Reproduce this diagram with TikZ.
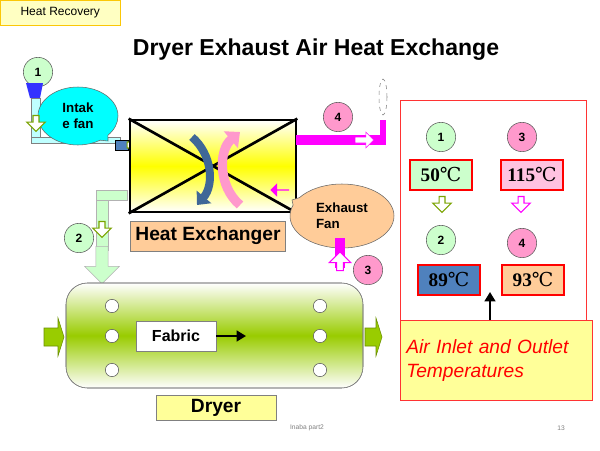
\documentclass[tikz,border=0pt]{standalone}
\usepackage{fontspec}
\setmainfont{Liberation Sans}
\newfontfamily\serf{Liberation Serif}
\newfontfamily\djs{DejaVu Serif}
\usetikzlibrary{arrows.meta,shapes.geometric,shapes.callouts,shapes.arrows}
\definecolor{lgreen}{RGB}{204,255,204}
\definecolor{lpink}{RGB}{255,153,204}
\definecolor{cyanf}{RGB}{0,255,255}
\definecolor{mag}{RGB}{255,0,255}
\definecolor{orangef}{RGB}{255,204,153}
\definecolor{ylw}{RGB}{255,255,153}
\definecolor{grn}{RGB}{153,204,0}
\definecolor{bluef}{RGB}{79,129,189}
\tikzset{
 num/.style={circle,draw=gray!70!black,minimum size=22pt,inner sep=0pt,font=\bfseries\small},
 temp/.style={draw=red,thick,minimum width=62*0.75pt,minimum height=30*0.75pt,font=\serf\bfseries\Large,inner sep=1pt},
 bub/.style={draw=gray!70!black,fill=white,circle,minimum size=10pt,inner sep=0pt},
 garrow/.style={single arrow,draw=grn!80!black,thick,fill=white,minimum width=14pt,single arrow head extend=3pt,inner sep=1pt,minimum height=15pt},
 sidearrow/.style={fill=grn,draw=grn!70!black}
}
\begin{document}
\begin{tikzpicture}[x=0.75pt,y=-0.75pt]
\useasboundingbox (0,0) rectangle (600,450);
\fill[white] (0,0) rectangle (600,450);
\node[draw=yellow!60!orange,fill=ylw!60,minimum width=120*0.75pt,minimum height=25*0.75pt,inner sep=0pt,anchor=north west,font=\small] (hr) at (0,0) {Heat Recovery};
\node[font=\bfseries\LARGE] (title) at (316,50) {Dryer Exhaust Air Heat Exchange};
% intake
\node[num,fill=lgreen] (c1) at (38,72) {1};
\fill[blue!80] (26,83) -- (43,83) -- (40,98) -- (30,98) -- cycle;
\draw[gray,fill=cyanf!25] (31,98) rectangle (40,143);
\draw[gray,fill=cyanf!25] (31,137) rectangle (120,143);
\node[ellipse callout,draw=black!60,fill=cyanf,minimum width=80*0.75pt,minimum height=58*0.75pt,callout absolute pointer={(108,141)},align=left,font=\bfseries] (fan1) at (78,116) {Intak\\e fan};
\draw[fill=bluef] (115,140) rectangle (128,150);
\node[garrow,minimum height=14pt] (a1) at (135,145) {};
\node[garrow,shape border rotate=270,minimum height=12pt] (a0) at (36,122) {};
% heat exchanger
\shade[top color=white,bottom color=white,middle color=yellow] (130,120) rectangle (296,212);
\node[draw,line width=2pt,minimum width=166*0.75pt,minimum height=92*0.75pt,inner sep=0pt] (hx) at (213,166) {};
\draw[line width=2pt] (hx.north west) -- (hx.south east);
\draw[line width=2pt] (hx.south west) -- (hx.north east);
\draw[bluef!80!black,line width=6pt,-{Triangle[width=14pt,length=8pt]}] (192,137) to[bend left=45] (197,205);
\draw[lpink,line width=7pt,-{Triangle[width=16pt,length=9pt]}] (240,205) to[bend left=50] (240,132);
% exhaust
\fill[mag] (296,135) rectangle (385,145);
\fill[mag] (380,120) rectangle (386,145);
\node[single arrow,fill=white,draw=mag,minimum width=12pt,minimum height=14pt,inner sep=1pt,single arrow head extend=2pt] (a4) at (363,140) {};
\draw[gray,dashed] (383,97) ellipse (4 and 18);
\node[num,fill=lpink] (c4) at (338,117) {4};
\node[single arrow,fill=mag,minimum width=10pt,minimum height=14pt,inner sep=0pt,shape border rotate=180,single arrow head extend=2pt] (a5) at (280,190) {};
\node[ellipse callout,draw=black!60,fill=orangef,minimum width=104*0.75pt,minimum height=64*0.75pt,callout absolute pointer={(292,200)},align=left,font=\bfseries] (fan2) at (342,216) {Exhaust\\Fan};
\fill[mag] (335,238) rectangle (345,268);
\node[single arrow,fill=white,draw=mag,thick,minimum width=16pt,minimum height=14pt,inner sep=1pt,shape border rotate=90,single arrow head extend=3pt] (a3) at (340,263) {};
\node[num,fill=lpink] (c3) at (368,270) {3};
% pipe 2
\draw[gray!60,fill=lgreen] (96,190) rectangle (127,200);
\draw[gray!60,fill=lgreen] (96,200) rectangle (108,250);
\node[single arrow,draw=gray!60,fill=lgreen,minimum width=26pt,minimum height=28pt,inner sep=2pt,shape border rotate=270,single arrow head extend=4pt] (a2big) at (102,262) {};
\node[garrow,shape border rotate=270,minimum height=12pt] (a2) at (102,228) {};
\node[num,fill=lgreen] (c2) at (79,238) {2};
\node[draw=gray,fill=orangef,minimum width=155*0.75pt,minimum height=30*0.75pt,inner sep=0pt,font=\Large\bfseries] (hxl) at (208,236) {Heat Exchanger};
% dryer
\shade[rounded corners=16pt,top color=white,bottom color=white,middle color=grn,draw=gray] (66,283) rectangle (363,388);
\draw[gray,rounded corners=16pt] (66,283) rectangle (363,388);
\foreach \x in {112,320} \foreach \y in {306,336,370} \node[bub] at (\x,\y) {};
\node[draw=gray,fill=white,minimum width=80*0.75pt,minimum height=30*0.75pt,inner sep=0pt,font=\bfseries\large] (fab) at (176,336) {Fabric};
\coordinate (fe) at (246,336);
\draw[line width=1.5pt,-{Triangle}] (fab.east) -- (fe);
\draw[sidearrow] (44,328) -- (58,328) -- (58,318) -- (64,337) -- (58,356) -- (58,346) -- (44,346) -- cycle;
\draw[sidearrow] (365,328) -- (376,328) -- (376,318) -- (382,337) -- (376,356) -- (376,346) -- (365,346) -- cycle;
\node[draw=gray,fill=ylw,minimum width=120*0.75pt,minimum height=25*0.75pt,inner sep=0pt,font=\bfseries\Large] (dry) at (216,408) {Dryer};
% right panel
\draw[red!80] (400,100) rectangle (586,322);
\node[num,fill=lgreen] (r1) at (441,137) {1};
\node[num,fill=lpink] (r3) at (522,137) {3};
\node[temp,fill=lgreen] (t1) at (441,175) {50{\djs\mdseries ℃}};
\node[temp,fill=lpink!60] (t3) at (532,175) {115{\djs\mdseries ℃}};
\node[garrow,shape border rotate=270,minimum height=12pt] (ra1) at (442,203) {};
\node[single arrow,draw=mag,thick,fill=white,minimum width=14pt,minimum height=12pt,inner sep=1pt,single arrow head extend=3pt,shape border rotate=270] (ra3) at (521,203) {};
\node[num,fill=lgreen] (r2) at (441,240) {2};
\node[num,fill=lpink] (r4) at (522,243) {4};
\node[temp,fill=bluef] (t2) at (449,280) {89{\djs\mdseries ℃}};
\node[temp,fill=orangef] (t4) at (533,280) {93{\djs\mdseries ℃}};
\node[draw=red!80,fill=ylw,minimum width=192*0.75pt,minimum height=80*0.75pt,inner sep=4pt,align=left,text=red,font=\itshape\Large,anchor=north west,text width=180*0.75pt] (note) at (400,320) {Air Inlet and Outlet\\Temperatures};
\coordinate (up) at (490,292);
\draw[line width=1.5pt,-{Triangle}] (490,320) -- (up);
\node[gray,font=\tiny] (ft) at (307,428) {Inaba part2};
\node[gray,font=\tiny] (pg) at (561,428) {13};
\end{tikzpicture}
\end{document}
